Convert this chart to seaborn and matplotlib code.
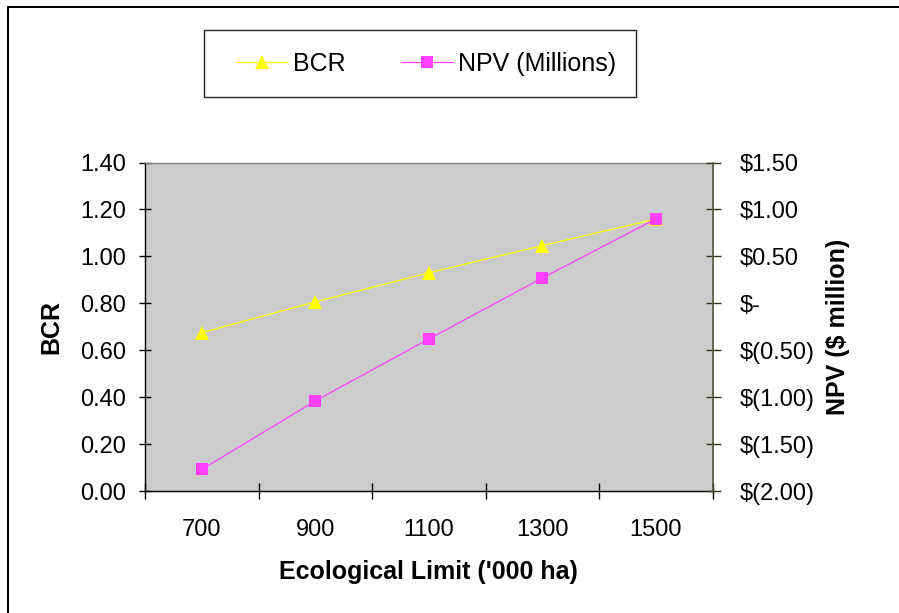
import numpy as np
import pandas as pd
import matplotlib
matplotlib.use("Agg")
import matplotlib.pyplot as plt
import seaborn as sns
from matplotlib.ticker import FixedLocator, FuncFormatter
from matplotlib.lines import Line2D
from matplotlib.patches import Rectangle

# ---- data ----
categories = ['700', '900', '1100', '1300', '1500']
bcr = [0.675, 0.806, 0.930, 1.046, 1.159]
npv = [-1.77, -1.04, -0.38, 0.27, 0.90]
bcr_ticks = [0.0, 0.2, 0.4, 0.6, 0.8, 1.0, 1.2, 1.4]
npv_ticks = [-2.0, -1.5, -1.0, -0.5, 0.0, 0.5, 1.0, 1.5]

df = pd.DataFrame({'limit': categories, 'BCR': bcr, 'NPV': npv})

sns.set_theme(style='white')
plt.rcParams['font.family'] = ['Liberation Sans', 'DejaVu Sans']
plt.rcParams['text.color'] = 'black'
plt.rcParams['axes.labelcolor'] = 'black'
plt.rcParams['xtick.color'] = 'black'
plt.rcParams['ytick.color'] = 'black'

fig = plt.figure(figsize=(8.99, 6.13), dpi=100)
ax = fig.add_axes([0.1613, 0.199, 0.6315, 0.5359])
ax2 = ax.twinx()

YEL = '#FFFF00'
MAG = '#FF40FF'

sns.lineplot(data=df, x='limit', y='BCR', ax=ax, sort=False, color=YEL,
             marker='^', markersize=10.5, markeredgewidth=0, linewidth=0.9,
             legend=False)
sns.lineplot(data=df, x='limit', y='NPV', ax=ax2, sort=False, color=MAG,
             marker='s', markersize=8, markeredgewidth=0, linewidth=0.9,
             legend=False)

ax.set_facecolor('#CCCCCC')
ax.set_xlim(-0.5, len(categories) - 0.5)
ax.set_ylim(bcr_ticks[0], bcr_ticks[-1])
ax2.set_ylim(npv_ticks[0], npv_ticks[-1])

ax.yaxis.set_major_locator(FixedLocator(bcr_ticks))
ax.yaxis.set_major_formatter(FuncFormatter(lambda v, p: f'{v:.2f}'))
ax2.yaxis.set_major_locator(FixedLocator(npv_ticks))

def acct(v, p):
    if abs(v) < 1e-9:
        return '$-'
    if v < 0:
        return f'$({abs(v):.2f})'
    return f'${v:.2f}'
ax2.yaxis.set_major_formatter(FuncFormatter(acct))

ax.xaxis.set_minor_locator(FixedLocator(np.arange(-0.5, len(categories), 1.0)))

FS = 17
ax.tick_params(axis='x', which='major', length=0, pad=20, labelsize=FS, colors='black')
ax.tick_params(axis='x', which='minor', length=11.5, width=1.0, direction='inout',
               color='black', bottom=True)
ax.tick_params(axis='y', which='major', length=9, width=1.0, direction='inout',
               pad=9.2, labelsize=FS, color='black', left=True, labelcolor='black')
ax2.tick_params(axis='y', which='major', length=10.8, width=1.0, direction='inout',
                pad=13.8, labelsize=FS, color='#33331f', right=True, labelcolor='black')

for s in ['top', 'right', 'bottom', 'left']:
    ax2.spines[s].set_visible(False)
ax2.spines['right'].set_visible(True)
ax2.spines['right'].set_color('#55553d')
ax2.spines['right'].set_linewidth(1.2)
ax.spines['right'].set_visible(False)
ax.spines['top'].set_color('#808080')
ax.spines['top'].set_linewidth(1.0)
ax.spines['left'].set_color('black')
ax.spines['left'].set_linewidth(1.0)
ax.spines['bottom'].set_color('black')
ax.spines['bottom'].set_linewidth(1.0)

ax.set_xlabel("Ecological Limit ('000 ha)", fontsize=18, fontweight='bold',
              labelpad=14, color='black')
ax.set_ylabel('BCR', fontsize=18, fontweight='bold', labelpad=12, color='black')
ax2.set_ylabel('NPV ($ million)', fontsize=18, fontweight='bold', labelpad=8,
               color='black')

# legend
handles = [ax.lines[0], ax2.lines[0]]
leg = fig.legend(handles, ['BCR', 'NPV (Millions)'], ncol=2, frameon=False,
                 loc='center left', bbox_to_anchor=(0.2622, 0.8964),
                 borderaxespad=0, borderpad=0, fontsize=18, labelcolor='black',
                 handlelength=2.1, handletextpad=0.2, columnspacing=2.2)
fig.add_artist(Rectangle((204 / 899, 1 - 97.3 / 613), 432 / 899, 67.3 / 613,
                         transform=fig.transFigure, fill=False,
                         edgecolor='#222222', linewidth=1.0))

# chart-area border (top and left visible)
fig.add_artist(Line2D([7.5 / 899, 1.0], [1 - 6.5 / 613, 1 - 6.5 / 613],
                      transform=fig.transFigure, color='black', linewidth=1.4))
fig.add_artist(Line2D([7.5 / 899, 7.5 / 899], [0.0, 1 - 6.5 / 613],
                      transform=fig.transFigure, color='black', linewidth=1.4))

fig.savefig('out.png', dpi=100)
